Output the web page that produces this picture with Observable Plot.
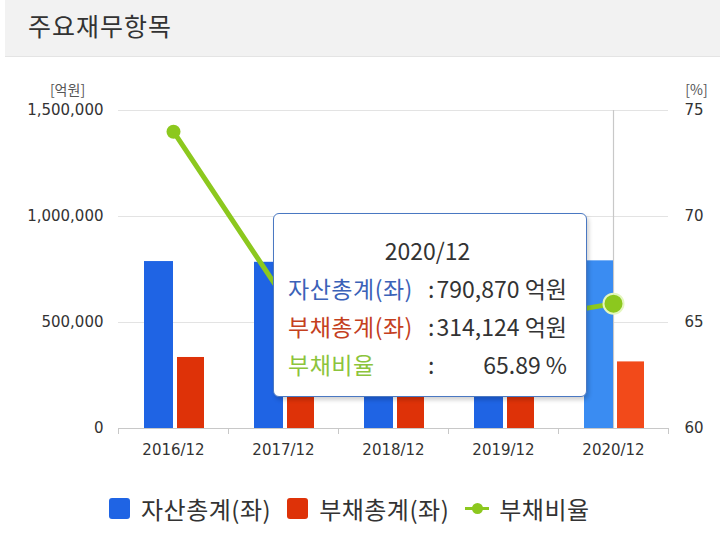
<!DOCTYPE html>
<html>
<head>
<meta charset="utf-8">
<script src="https://cdn.jsdelivr.net/npm/d3@7"></script>
<script src="https://cdn.jsdelivr.net/npm/@observablehq/plot@0.6"></script>
<style>
  html, body { margin: 0; padding: 0; background: #fff; }
  #wrap { position: relative; width: 720px; height: 533px; overflow: hidden; font-family: "Noto Sans CJK KR", "Noto Sans", sans-serif; color: #333; }
  #header { position: absolute; left: 5px; top: 0; width: 715px; height: 56px; background: #f2f2f2; border-bottom: 1px solid #e4e4e4; }
  #header span { position: absolute; left: 23px; top: 25px; transform: translateY(-50%); font-size: 25px; letter-spacing: 1px; color: #333; line-height: 1; }
  #chart { position: absolute; left: 0; top: 58px; }
  #tooltip { position: absolute; left: 273px; top: 213px; width: 314px; height: 184px; background: #fff; border: 1.5px solid #4a78c2; border-radius: 6px; box-shadow: 2px 3px 4px rgba(0,0,0,0.18); box-sizing: border-box; padding: 17px 19px 0 14px; font-size: 23px; line-height: 38px; }
  #tooltip .title { text-align: center; color: #333; }
  #tooltip .grid { display: grid; grid-template-columns: 139px auto 1fr; }
  #tooltip .lab { letter-spacing: 0.5px; white-space: nowrap; }
  #tooltip .val { text-align: right; color: #333; }
  #tooltip .colon { color: #333; padding: 0 1px; }
  #legend { position: absolute; left: 109px; top: 491px; display: flex; align-items: center; font-size: 24px; letter-spacing: 0.5px; color: #333; }
  #legend .item { display: flex; align-items: center; margin-right: 16px; }
  #legend .sw { width: 21px; height: 21px; border-radius: 3px; margin-right: 11px; }
  #legend .ln { position: relative; width: 24px; height: 21px; margin-right: 10px; }
  #legend .ln::before { content: ""; position: absolute; left: 0; right: 0; top: 9px; height: 3px; background: #8cc81e; }
  #legend .ln::after { content: ""; position: absolute; left: 7px; top: 5px; width: 11px; height: 11px; border-radius: 50%; background: #8cc81e; }
</style>
</head>
<body>
<div id="wrap">
  <div id="header"><span id="title"></span></div>
  <div id="chart"></div>
  <div id="tooltip"></div>
  <div id="legend"></div>
</div>
<script>
// ---- data ----
const titleText = "주요재무항목";
const years = ["2016/12", "2017/12", "2018/12", "2019/12", "2020/12"];
const assets = [787500, 784000, 782500, 789500, 790870];      // 자산총계(좌), 억원
const liabilities = [335000, 312500, 315000, 311000, 314124];  // 부채총계(좌), 억원
const ratio = [74.0, 66.2, 67.3, 65.0, 65.89];                 // 부채비율, %
const leftTicks = [0, 500000, 1000000, 1500000];
const rightTicks = [60, 65, 70, 75];
const seriesNames = ["자산총계(좌)", "부채총계(좌)", "부채비율"];
const unitLeft = "[억원]";
const unitRight = "[%]";
const highlightIndex = 4;

const colors = {
  assets: "#1f64e4", assetsHi: "#3a8cf2",
  liab: "#de3208", liabHi: "#f24a1a",
  ratio: "#8cc81e"
};

// map the right-hand % axis onto the left scale
const rMin = rightTicks[0], rMax = rightTicks[rightTicks.length - 1];
const lMax = leftTicks[leftTicks.length - 1];
const toLeft = p => (p - rMin) / (rMax - rMin) * lMax;
const fromLeft = v => rMin + v / lMax * (rMax - rMin);

const rows = years.map((year, i) => ({
  year, assets: assets[i], liabilities: liabilities[i], ratio: ratio[i], hi: i === highlightIndex
}));

document.getElementById("title").textContent = titleText;

const tickLen = lMax / 318 * 6; // ~6px below baseline
const halfBand = 55;

const plot = Plot.plot({
  width: 720,
  height: 412,
  marginLeft: 118,
  marginRight: 52,
  marginTop: 52,
  marginBottom: 42,
  x: { type: "band", domain: years, padding: 0, axis: null },
  y: { domain: [0, lMax], axis: null },
  style: { fontFamily: "DejaVu Sans", fontSize: "15px", color: "#333", background: "transparent", overflow: "visible" },
  marks: [
    Plot.gridY(leftTicks.filter(d => d > 0), { stroke: "#e3e3e3", strokeOpacity: 1 }),
    Plot.ruleX([rows[highlightIndex]], { x: "year", y1: 0, y2: lMax, stroke: "#c8c8c8", strokeWidth: 1.2 }),
    Plot.barY(rows, { x: "year", y: "assets", filter: d => !d.hi, fill: colors.assets, insetLeft: 26, insetRight: 55 }),
    Plot.barY(rows, { x: "year", y: "assets", filter: d => d.hi, fill: colors.assetsHi, insetLeft: 26, insetRight: 55 }),
    Plot.barY(rows, { x: "year", y: "liabilities", filter: d => !d.hi, fill: colors.liab, insetLeft: 59, insetRight: 24 }),
    Plot.barY(rows, { x: "year", y: "liabilities", filter: d => d.hi, fill: colors.liabHi, insetLeft: 59, insetRight: 24 }),
    Plot.ruleY([0], { stroke: "#c8c8c8" }),
    Plot.ruleX(rows, { x: "year", dx: -halfBand, y1: 0, y2: -tickLen, stroke: "#c8c8c8" }),
    Plot.ruleX([rows[rows.length - 1]], { x: "year", dx: halfBand, y1: 0, y2: -tickLen, stroke: "#c8c8c8" }),
    Plot.line(rows, { x: "year", y: d => toLeft(d.ratio), stroke: colors.ratio, strokeWidth: 5 }),
    Plot.dot(rows, { x: "year", y: d => toLeft(d.ratio), filter: d => !d.hi, r: 7, fill: colors.ratio }),
    Plot.dot(rows, { x: "year", y: d => toLeft(d.ratio), filter: d => d.hi, r: 10, fill: colors.ratio, stroke: "#e4f6bf", strokeWidth: 2 }),
    Plot.axisY(leftTicks, { anchor: "left", tickSize: 0, tickPadding: 15, tickFormat: d3.format(","), label: null, fill: "#333" }),
    Plot.axisY(rightTicks.map(toLeft), { anchor: "right", tickSize: 0, tickPadding: 16, tickFormat: d => String(Math.round(fromLeft(d))), label: null, fill: "#333" }),
    Plot.axisX({ tickSize: 0, tickPadding: 16, label: null, fill: "#333" }),
    Plot.text([unitLeft], { frameAnchor: "top-left", text: d => d, dx: -51, dy: -25, textAnchor: "middle", fontFamily: "Noto Sans CJK KR", fontSize: 14, fill: "#555" }),
    Plot.text([unitRight], { frameAnchor: "top-right", text: d => d, dx: 28, dy: -25, textAnchor: "middle", fontFamily: "Noto Sans CJK KR", fontSize: 14, fill: "#555" })
  ]
});
document.getElementById("chart").appendChild(plot);

// tooltip
const fmt = d3.format(",");
const r = rows[highlightIndex];
const tip = document.getElementById("tooltip");
tip.innerHTML = `
  <div class="title">${r.year}</div>
  <div class="grid">
    <span class="lab" style="color:#3b62b8">${seriesNames[0]}</span><span class="colon">:</span><span class="val">${fmt(r.assets)} 억원</span>
    <span class="lab" style="color:#c4401e">${seriesNames[1]}</span><span class="colon">:</span><span class="val">${fmt(r.liabilities)} 억원</span>
    <span class="lab" style="color:#8cc43c">${seriesNames[2]}</span><span class="colon">:</span><span class="val">${r.ratio.toFixed(2)} %</span>
  </div>`;

// legend
const legend = document.getElementById("legend");
legend.innerHTML = `
  <div class="item"><div class="sw" style="background:${colors.assets}"></div><span>${seriesNames[0]}</span></div>
  <div class="item"><div class="sw" style="background:${colors.liab}"></div><span>${seriesNames[1]}</span></div>
  <div class="item"><div class="ln"></div><span>${seriesNames[2]}</span></div>`;
</script>
</body>
</html>
